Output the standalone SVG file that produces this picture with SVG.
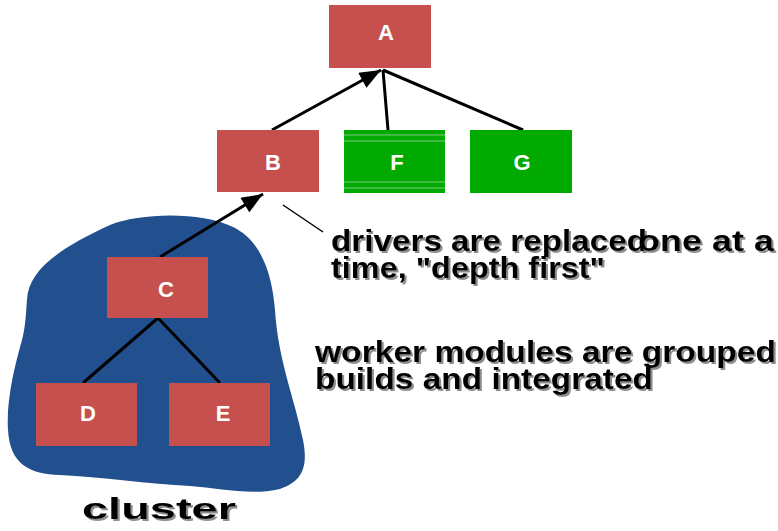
<svg xmlns="http://www.w3.org/2000/svg" width="778" height="531" viewBox="0 0 778 531">
<defs>
<marker id="arrow" viewBox="0 0 10 8" refX="10" refY="4" markerWidth="24" markerHeight="17" markerUnits="userSpaceOnUse" orient="auto">
<path d="M0,0 L10,4 L0,8 z" fill="#000"/>
</marker>
<filter id="shadow" x="-5%" y="-20%" width="110%" height="150%">
<feDropShadow dx="2" dy="2" stdDeviation="0.6" flood-color="#808080" flood-opacity="0.9"/>
</filter>
</defs>
<style>
.red{fill:#c5504e}
.green{fill:#00aa00}
.lbl{font-family:"Liberation Sans",Arial,sans-serif;font-weight:bold;font-size:22px;fill:#fff;text-anchor:middle}
.edge{stroke:#000;stroke-width:3;fill:none}
.note{font-family:"Liberation Sans",Arial,sans-serif;font-weight:bold;font-size:29px;fill:#000;filter:url(#shadow)}
</style>
<rect width="778" height="531" fill="#fff"/>
<g id="cluster-blob">
<path d="M 27 300 C 28 270, 60 248, 110 225 C 140 213, 200 211, 233 227 C 262 241, 272 275, 275 310 C 278 360, 295 400, 303 440 C 309 470, 300 482, 280 489 C 250 496, 220 488, 190 486 C 150 484, 100 477, 60 475 C 30 474, 10 465, 8 430 C 6 400, 15 365, 22 340 C 26 325, 26 310, 27 300 Z" fill="#22508e"/>
</g>
<g id="connectors">
<line class="edge" x1="272" y1="130" x2="381" y2="70" marker-end="url(#arrow)"/>
<line class="edge" x1="388" y1="130" x2="383" y2="70" stroke-width="4"/>
<line class="edge" x1="523" y1="130" x2="383" y2="70"/>
<line class="edge" x1="160" y1="257" x2="263" y2="194" marker-end="url(#arrow)"/>
<line class="edge" x1="158" y1="318" x2="83" y2="383"/>
<line class="edge" x1="158" y1="318" x2="220" y2="383"/>
<line x1="283" y1="205" x2="323" y2="232" stroke="#000" stroke-width="1.5"/>
</g>
<g id="A"><rect class="red" x="329" y="5" width="102" height="63"/><text class="lbl" x="386" y="40">A</text></g>
<g id="B"><rect class="red" x="217" y="130" width="102" height="62"/><text class="lbl" x="273" y="170">B</text></g>
<g id="F"><rect class="green" x="344" y="130" width="101" height="63"/>
<rect x="344" y="134" width="101" height="2" fill="#3dbb3d"/><rect x="344" y="140" width="101" height="2" fill="#3dbb3d"/><rect x="344" y="181" width="101" height="2" fill="#3dbb3d"/><rect x="344" y="187" width="101" height="2" fill="#3dbb3d"/>
<text class="lbl" x="397" y="170">F</text></g>
<g id="G"><rect class="green" x="470" y="130" width="102" height="63"/><text class="lbl" x="522" y="170">G</text></g>
<g id="C"><rect class="red" x="107" y="257" width="101" height="61"/><text class="lbl" x="166" y="297">C</text></g>
<g id="D"><rect class="red" x="36" y="383" width="101" height="63"/><text class="lbl" x="88" y="421">D</text></g>
<g id="E"><rect class="red" x="169" y="383" width="101" height="63"/><text class="lbl" x="223" y="421">E</text></g>
<g id="labels">
<text class="note" x="331" y="251" textLength="316" lengthAdjust="spacingAndGlyphs">drivers are replaced</text>
<text class="note" x="638" y="251" textLength="136" lengthAdjust="spacingAndGlyphs">one at a</text>
<text class="note" x="331" y="278" textLength="274" lengthAdjust="spacingAndGlyphs">time, "depth first"</text>
<text class="note" x="315" y="362" textLength="461" lengthAdjust="spacingAndGlyphs">worker modules are grouped</text>
<text class="note" x="315" y="389" textLength="338" lengthAdjust="spacingAndGlyphs">builds and integrated</text>
<text class="note" x="82" y="519" font-size="32" textLength="154" lengthAdjust="spacingAndGlyphs">cluster</text>
</g>
</svg>
